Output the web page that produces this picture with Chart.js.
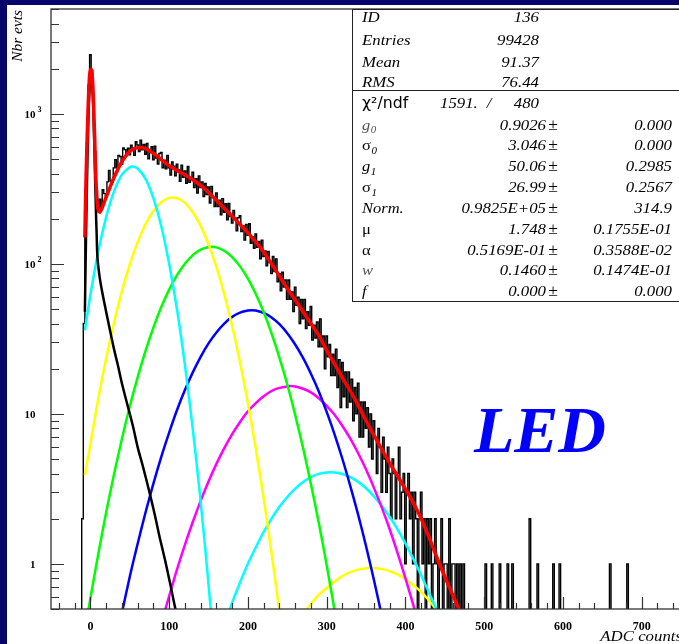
<!DOCTYPE html>
<html>
<head>
<meta charset="utf-8">
<title>ADC spectrum - LED</title>
<script src="https://cdn.jsdelivr.net/npm/chart.js@4.4.1/dist/chart.umd.min.js"></script>
<style>
  html, body { margin: 0; padding: 0; overflow: hidden; background: #06066b; }
  #wrap { position: absolute; left: 0; top: 0; width: 700px; height: 644px; }
</style>
</head>
<body>
<div id="wrap"><canvas id="adcChart" width="700" height="644"></canvas></div>
<script>
/* --------------------------------------------
   HISTOGRAM (2 ADC bins, first bin edge at -11)
--------------------------------------------- */
const binStart = -11;
const binWidth = 2;
const binCounts = [
  2, 40, 230, 640, 1550, 2480, 1950, 1200, 560, 310,
  232, 270, 239, 312, 294, 278, 352, 420, 356, 349,
  436, 494, 435, 528, 520, 461, 593, 577, 543, 590,
  534, 618, 593, 529, 652, 620, 561, 668, 576, 625,
  538, 636, 502, 573, 603, 494, 608, 507, 463, 544,
  553, 437, 490, 430, 528, 437, 391, 477, 448, 387,
  461, 422, 355, 455, 378, 416, 344, 446, 349, 370,
  408, 322, 369, 297, 386, 323, 352, 281, 343, 290,
  326, 254, 328, 278, 241, 297, 241, 266, 212, 272,
  221, 252, 197, 253, 207, 187, 227, 202, 166, 203,
  209, 164, 179, 144, 183, 155, 185, 137, 151, 127,
  158, 129, 141, 108, 144, 112, 122, 97, 121, 102,
  86, 112, 89, 108, 76, 86, 66, 88, 70, 78,
  58, 78, 58, 65, 48, 70, 53, 60, 40, 58,
  43, 58, 37, 48, 39, 52, 31, 39, 32, 41,
  28, 43, 28, 33, 20, 33, 24, 29, 18, 25,
  18, 27, 15, 23, 11, 22, 13, 19, 11, 19,
  12, 17, 9, 15, 10, 16, 7, 12, 7, 12,
  8, 11, 6, 10, 5, 9, 7, 4, 8, 6,
  3, 7, 5, 3, 6, 4, 2, 5, 4, 2,
  4, 6, 2, 3, 4, 1, 3, 4, 2, 3,
  1, 3, 2, 0, 2, 3, 1, 2, 0, 2,
  1, 2, 0, 1, 2, 1, 0, 1, 2, 0,
  1, 1, 0, 2, 0, 1, 1, 0, 1, 0,
  1, 0, 1, 0, 0
];
// lone entries far out in the tail
const tailAdc = [502, 509, 520, 530, 535, 557, 567, 587, 596, 659, 682];
const tailCounts = [1, 1, 1, 1, 1, 2, 1, 1, 1, 1, 1];

/* --------------------------------------------
   FIT: TOTAL + COMPONENTS
--------------------------------------------- */
const fitAdc = [-7, -6, -5, -4, -3, -2, -1, 0, 1, 2, 3, 4, 5, 6, 7, 8, 9, 10, 12, 14, 16, 20,
  25, 30, 35, 40, 45, 50, 55, 62, 70, 80, 90, 100, 110, 120, 130, 140, 150, 160, 170, 180,
  190, 200, 210, 220, 230, 240, 250, 260, 270, 280, 290, 300, 310, 320, 330, 340, 350,
  360, 370, 380, 390, 400, 410, 420, 430, 440, 450, 460, 470, 480];
const fitVal = [150, 290, 470, 720, 1050, 1450, 1800, 1960, 1980, 1870, 1580, 1180, 820, 540,
  370, 285, 245, 228, 221, 230, 244, 278, 325, 376, 428, 480, 525, 562, 584, 597, 586, 545,
  496, 452, 419, 392, 364, 333, 299, 265, 235, 208, 183, 161, 140, 120, 100, 83, 68.5, 57.5,
  48, 40, 33.3, 26.5, 21.5, 17.4, 14.2, 11.4, 9.0, 7.2, 5.8, 4.7, 3.85, 3.15, 2.55, 2.0,
  1.5, 1.1, 0.82, 0.62, 0.47, 0.35];

// pedestal + exponential background (black)
const pedAdc = [-7, -6, -5, -4, -3, -2, -1, 0, 1, 2, 3, 4, 5, 6, 7, 8, 9, 12, 16, 20, 24, 30,
  35, 40, 47, 54, 60, 67, 75, 82, 88, 95, 101, 108, 116];
const pedVal = [48, 105, 220, 420, 740, 1100, 1450, 1680, 1740, 1640, 1350, 960, 620, 370,
  230, 155, 110, 80, 61, 48, 38, 27, 21, 16, 11.5, 8.3, 6, 4.4, 3, 2.1, 1.5, 1.05, 0.75,
  0.5, 0.33];

// photo-electron peaks 1..7
const pe1Adc = [-7, 0, 10, 20, 30, 40, 50, 54, 60, 70, 80, 90, 100, 110, 120, 130, 140, 150, 160];
const pe1Val = [36, 62, 121, 205, 304, 393, 441, 445, 432, 369, 274, 178, 100, 49.4, 21.2,
  7.9, 2.6, 0.73, 0.18];

const pe2Adc = [-7, 0, 10, 20, 30, 40, 50, 60, 70, 80, 90, 100, 105, 110, 120, 130, 140, 150,
  160, 170, 180, 190, 200, 210, 220, 230, 240, 250];
const pe2Val = [3.9, 6.3, 12.6, 23.4, 40.5, 65.6, 99, 139.5, 183.5, 225, 257.6, 275, 277, 274,
  255, 221, 179, 135, 95.3, 62.7, 38.5, 22, 11.8, 5.87, 2.73, 1.18, 0.48, 0.18];

const pe3Adc = [-7, 0, 10, 20, 30, 40, 50, 60, 70, 80, 90, 100, 110, 120, 130, 140, 150, 154,
  160, 170, 180, 190, 200, 210, 220, 230, 240, 250, 260, 270, 280, 290, 300, 310, 320];
const pe3Val = [0.36, 0.59, 1.16, 2.2, 3.95, 6.8, 11.2, 17.5, 26.3, 37.6, 51.5, 67.3, 84, 100.3,
  114.4, 124.5, 129.6, 130, 128.8, 122.3, 111, 96.2, 79.7, 63, 47.7, 34.4, 23.7, 15.7, 9.85,
  5.93, 3.4, 1.87, 0.98, 0.49, 0.23];

const pe4Adc = [30, 40, 50, 60, 70, 80, 90, 100, 110, 120, 130, 140, 150, 160, 170, 180, 190,
  200, 205, 210, 220, 230, 240, 250, 260, 270, 280, 290, 300, 310, 320, 330, 340, 350, 360,
  370, 380];
const pe4Val = [0.26, 0.47, 0.82, 1.36, 2.2, 3.43, 5.17, 7.5, 10.6, 14.4, 18.9, 24, 29.5, 34.9,
  40, 44.3, 47.3, 48.9, 49.1, 48.9, 47.1, 43.9, 39.6, 34.5, 29, 23.6, 18.5, 14.1, 10.3, 7.3,
  5.0, 3.3, 2.12, 1.31, 0.78, 0.45, 0.25];

const pe5Adc = [90, 100, 110, 120, 130, 140, 150, 160, 170, 180, 190, 200, 210, 220, 230, 240,
  253, 260, 270, 280, 290, 300, 310, 320, 330, 340, 350, 360, 370, 380, 390, 400, 410, 420];
const pe5Val = [0.4, 0.61, 0.92, 1.34, 1.9, 2.63, 3.54, 4.64, 5.91, 7.33, 8.83, 10.4, 11.8,
  13.1, 14.2, 14.9, 15.3, 15.2, 14.7, 13.9, 12.7, 11.3, 9.85, 8.3, 6.83, 5.46, 4.25, 3.21,
  2.37, 1.7, 1.18, 0.8, 0.53, 0.34];

const pe6Adc = [160, 170, 180, 190, 200, 210, 220, 230, 240, 250, 260, 270, 280, 290, 300, 310,
  320, 330, 340, 350, 360, 370, 380, 390, 400, 410, 420, 430, 440, 450];
const pe6Val = [0.28, 0.39, 0.55, 0.75, 1.0, 1.29, 1.63, 2.0, 2.4, 2.79, 3.17, 3.51, 3.79, 3.98,
  4.07, 4.07, 3.97, 3.78, 3.52, 3.19, 2.82, 2.44, 2.06, 1.7, 1.37, 1.08, 0.84, 0.64, 0.49, 0.36];

const pe7Adc = [260, 270, 280, 290, 300, 310, 320, 330, 340, 350, 358, 370, 380, 390, 400, 410,
  420, 430, 440, 450];
const pe7Val = [0.4, 0.46, 0.54, 0.62, 0.69, 0.76, 0.83, 0.88, 0.915, 0.936, 0.94, 0.925, 0.895,
  0.85, 0.79, 0.72, 0.65, 0.57, 0.49, 0.42];

/* --------------------------------------------
   AXES
--------------------------------------------- */
const xMin = -50, xMax = 760;
const yMin = 0.5, yMax = 5000;
const xLabelValues = [0, 100, 200, 300, 400, 500, 600, 700];
const yLabelValues = [1, 10, 100, 1000];
const yLabelBase = ['1', '10', '10', '10'];
const yLabelExp = ['', '', '2', '3'];

/* --------------------------------------------
   STATISTICS BOX
--------------------------------------------- */
const statLabels = ['ID', 'Entries', 'Mean', 'RMS'];
const statValues = ['136', '99428', '91.37', '76.44'];
const chi2Value = '1591.';
const ndfValue = '480';
const parNames = ['g', 'σ', 'g', 'σ', 'Norm.', 'μ', 'α', 'w', 'f'];
const parSubs = ['0', '0', '1', '1', '', '', '', '', ''];
const parValues = ['0.9026', '3.046', '50.06', '26.99', '0.9825E+05', '1.748', '0.5169E-01',
  '0.1460', '0.000'];
const parErrors = ['0.000', '0.000', '0.2985', '0.2567', '314.9', '0.1755E-01', '0.3588E-02',
  '0.1474E-01', '0.000'];

/* --------------------------------------------
   HELPERS
--------------------------------------------- */
const SERIF = '"Liberation Serif", "DejaVu Serif", serif';
const emptyBin = 0.05; // log axis: empty bins fall below the floor and get clipped

function toPoints(xs, ys) {
  return xs.map((x, i) => ({ x: x, y: ys[i] }));
}

function histogramPoints() {
  const counts = binCounts.slice();
  const nBins = Math.ceil((xMax - binStart) / binWidth);
  while (counts.length < nBins) counts.push(0);
  tailAdc.forEach((adc, i) => {
    counts[Math.floor((adc - binStart) / binWidth)] = tailCounts[i];
  });
  const pts = [{ x: binStart, y: emptyBin }];
  counts.forEach((c, i) => pts.push({ x: binStart + i * binWidth, y: c > 0 ? c : emptyBin }));
  pts.push({ x: binStart + counts.length * binWidth, y: emptyBin });
  return pts;
}

function curve(xs, ys, color, width) {
  return {
    data: toPoints(xs, ys),
    borderColor: color,
    borderWidth: width,
    tension: 0.3,
    pointRadius: 0,
    fill: false,
    clip: 0
  };
}

// text squeezed/stretched horizontally like the old HIGZ fonts
function wideText(ctx, text, x, y, align, sx) {
  ctx.save();
  ctx.translate(x, y);
  ctx.scale(sx, 1);
  ctx.textAlign = align;
  ctx.fillText(text, 0, 0);
  ctx.restore();
  return ctx.measureText(text).width * sx;
}

/* --------------------------------------------
   PLUGINS
--------------------------------------------- */
const paperPlugin = {
  id: 'paper',
  beforeDraw(chart) {
    const ctx = chart.ctx;
    ctx.save();
    ctx.fillStyle = '#06066b';
    ctx.fillRect(0, 0, chart.width, chart.height);
    ctx.fillStyle = '#ffffff';
    ctx.fillRect(7, 5, chart.width - 7, chart.height - 5);
    ctx.restore();
  }
};

const framePlugin = {
  id: 'frame',
  afterDatasetsDraw(chart) {
    const ctx = chart.ctx;
    const area = chart.chartArea;
    const xs = chart.scales.x;
    const ys = chart.scales.y;
    ctx.save();

    // frame
    ctx.strokeStyle = '#333';
    ctx.lineWidth = 1.3;
    ctx.strokeRect(area.left, area.top, area.right - area.left, area.bottom - area.top);

    // x ticks, pointing into the frame
    ctx.lineWidth = 1.2;
    ctx.beginPath();
    for (let v = -40; v <= xMax; v += 20) {
      const px = Math.round(xs.getPixelForValue(v)) + 0.5;
      const len = v % 100 === 0 ? 12 : 6;
      ctx.moveTo(px, area.bottom);
      ctx.lineTo(px, area.bottom - len);
    }
    // y ticks
    for (let e = -1; e <= 3; e++) {
      for (let m = 1; m <= 9; m++) {
        const v = m * Math.pow(10, e);
        if (v < yMin || v > yMax) continue;
        const py = Math.round(ys.getPixelForValue(v)) + 0.5;
        const len = m === 1 ? 13 : 8;
        ctx.moveTo(area.left, py);
        ctx.lineTo(area.left + len, py);
      }
    }
    ctx.stroke();

    // tick labels
    ctx.fillStyle = '#000';
    ctx.textBaseline = 'alphabetic';
    ctx.font = 'bold 12px ' + SERIF;
    xLabelValues.forEach((v) => {
      ctx.textAlign = 'center';
      ctx.fillText(String(v), xs.getPixelForValue(v), 629.5);
    });
    yLabelValues.forEach((v, i) => {
      const py = ys.getPixelForValue(v);
      ctx.font = 'bold 11px ' + SERIF;
      ctx.textAlign = 'right';
      ctx.fillText(yLabelBase[i], 35.5, py + 4);
      if (yLabelExp[i]) {
        ctx.font = 'bold 8px ' + SERIF;
        ctx.textAlign = 'left';
        ctx.fillText(yLabelExp[i], 37.5, py - 2);
      }
    });

    // axis titles
    ctx.font = 'italic 14px ' + SERIF;
    wideText(ctx, 'ADC counts', 682, 641, 'right', 1.2);
    ctx.save();
    ctx.translate(21.5, 10);
    ctx.rotate(-Math.PI / 2);
    wideText(ctx, 'Nbr evts', 0, 0, 'right', 1.1);
    ctx.restore();

    ctx.restore();
  },

  afterDraw(chart) {
    const ctx = chart.ctx;
    ctx.save();

    // statistics box
    const left = 352.5, top = 9.5, bottom = 301.5, split = 90.5;
    ctx.fillStyle = '#fff';
    ctx.fillRect(left, top, chart.width - left, bottom - top);
    ctx.strokeStyle = '#222';
    ctx.lineWidth = 1;
    ctx.strokeRect(left, top, chart.width, bottom - top);
    ctx.beginPath();
    ctx.moveTo(left, split);
    ctx.lineTo(chart.width, split);
    ctx.stroke();

    ctx.fillStyle = '#000';
    ctx.textBaseline = 'alphabetic';
    const topRows = [22, 44.5, 66.5, 87];
    ctx.font = 'italic 14px ' + SERIF;
    statLabels.forEach((label, i) => {
      wideText(ctx, label, 362, topRows[i], 'left', 1.2);
      wideText(ctx, statValues[i], 539, topRows[i], 'right', 1.2);
    });

    // chi2 / ndf line
    ctx.font = '15px "DejaVu Sans", sans-serif';
    wideText(ctx, 'χ²/ndf', 362, 108, 'left', 1.05);
    ctx.font = 'italic 14px ' + SERIF;
    wideText(ctx, chi2Value, 440, 108, 'left', 1.2);
    wideText(ctx, '/', 489, 108, 'center', 1.2);
    wideText(ctx, ndfValue, 539, 108, 'right', 1.2);

    // fit parameters
    parNames.forEach((name, i) => {
      const y = 129.5 + 20.85 * i;
      const upright = name === 'σ' || name === 'μ' || name === 'α';
      ctx.fillStyle = (name === 'g' && parSubs[i] === '0') || name === 'w' ? '#555' : '#000';
      ctx.font = (upright ? '' : 'italic ') + '15px ' + SERIF;
      const w = wideText(ctx, name, 362, y, 'left', 1.1);
      if (parSubs[i]) {
        ctx.font = 'italic 10px ' + SERIF;
        wideText(ctx, parSubs[i], 362 + w + 0.5, y + 3.5, 'left', 1.1);
      }
      ctx.fillStyle = '#000';
      ctx.font = 'italic 14px ' + SERIF;
      wideText(ctx, parValues[i], 546, y, 'right', 1.2);
      wideText(ctx, parErrors[i], 672, y, 'right', 1.2);
      ctx.font = '16px ' + SERIF;
      wideText(ctx, '±', 553, y, 'center', 1.1);
    });

    // LED label
    ctx.fillStyle = '#0000ff';
    ctx.font = 'bold italic 66px ' + SERIF;
    ctx.textAlign = 'left';
    ctx.fillText('LED', 474, 452);

    ctx.restore();
  }
};

/* --------------------------------------------
   CHART
--------------------------------------------- */
const datasets = [
  curve(fitAdc, fitVal, '#ff0000', 3.5),
  curve(pedAdc, pedVal, '#000000', 2.5),
  curve(pe1Adc, pe1Val, '#00ffff', 2.5),
  curve(pe2Adc, pe2Val, '#ffff00', 2.5),
  curve(pe3Adc, pe3Val, '#00ff00', 2.5),
  curve(pe4Adc, pe4Val, '#0000ff', 2.5),
  curve(pe5Adc, pe5Val, '#ff00ff', 2.5),
  curve(pe6Adc, pe6Val, '#00ffff', 2.5),
  curve(pe7Adc, pe7Val, '#ffff00', 2.5),
  {
    data: histogramPoints(),
    borderColor: '#000000',
    borderWidth: 1.4,
    stepped: 'before',
    tension: 0,
    pointRadius: 0,
    fill: false,
    clip: 0
  }
];

new Chart(document.getElementById('adcChart'), {
  type: 'line',
  data: { datasets: datasets },
  options: {
    responsive: false,
    animation: false,
    devicePixelRatio: 1,
    layout: { padding: { left: 51, top: 9, right: 11, bottom: 35 } },
    plugins: { legend: { display: false }, tooltip: { enabled: false } },
    scales: {
      x: { type: 'linear', display: false, min: xMin, max: xMax },
      y: { type: 'logarithmic', display: false, min: yMin, max: yMax }
    }
  },
  plugins: [paperPlugin, framePlugin]
});
</script>
</body>
</html>
